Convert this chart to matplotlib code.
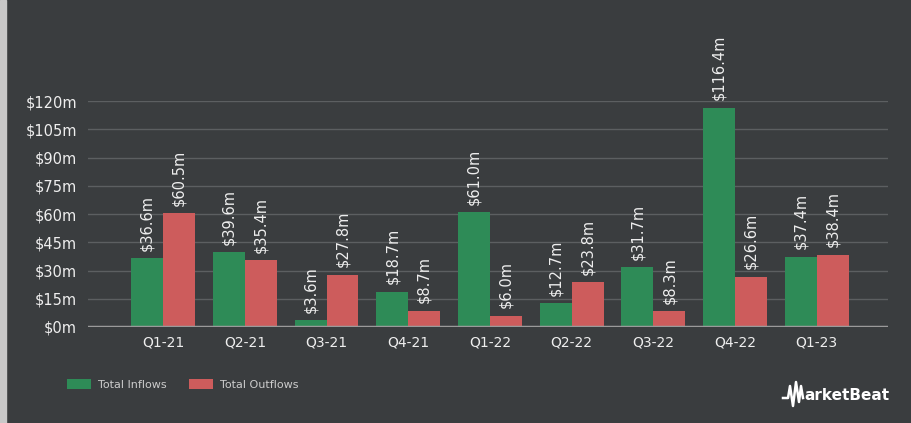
import matplotlib.pyplot as plt
import numpy as np
from matplotlib.patches import Rectangle

quarters = ["Q1-21", "Q2-21", "Q3-21", "Q4-21", "Q1-22", "Q2-22", "Q3-22", "Q4-22", "Q1-23"]
inflows = [36.6, 39.6, 3.6, 18.7, 61.0, 12.7, 31.7, 116.4, 37.4]
outflows = [60.5, 35.4, 27.8, 8.7, 6.0, 23.8, 8.3, 26.6, 38.4]
yticks = [0, 15, 30, 45, 60, 75, 90, 105, 120]

BG = "#3a3d3f"
GREEN = "#2e8b57"
RED = "#cd5c5c"
TEXT = "#eeeeee"

fig = plt.figure(figsize=(9.12, 4.23), dpi=100, facecolor=BG)
ax = fig.add_axes([0.0965, 0.227, 0.877, 0.534])
ax.set_facecolor(BG)

x = np.arange(len(quarters))
w = 0.39
b1 = ax.bar(x - w / 2, inflows, w, color=GREEN, label="Total Inflows", zorder=3)
b2 = ax.bar(x + w / 2, outflows, w, color=RED, label="Total Outflows", zorder=3)

for bars, vals in ((b1, inflows), (b2, outflows)):
    for bar, v in zip(bars, vals):
        ax.text(bar.get_x() + bar.get_width() / 2, v + 4, f"${v:.1f}m",
                rotation=90, ha="center", va="bottom", color=TEXT,
                fontsize=10.5, clip_on=False, zorder=4)

ax.set_xlim(-0.92, 8.87)
ax.set_ylim(0, 120)
ax.set_yticks(yticks)
ax.set_yticklabels([f"${t}m" for t in yticks], color=TEXT, fontsize=10.5)
ax.set_xticks(x)
ax.set_xticklabels(quarters, color=TEXT, fontsize=10)
ax.tick_params(length=0, pad=8)
ax.tick_params(axis="x", pad=6)
ax.grid(axis="y", color="#5c5f61", linewidth=1, zorder=0)
for s in ax.spines.values():
    s.set_visible(False)
ax.axhline(0, color="#9a9a9a", linewidth=2.5, zorder=5)

# legend
leg = fig.legend(handles=[b1, b2], loc="lower left", bbox_to_anchor=(0.062, 0.055),
                 ncol=2, frameon=False, fontsize=8, handlelength=2.2,
                 handleheight=0.9, columnspacing=2.0, handletextpad=0.6)
for t in leg.get_texts():
    t.set_color("#cccccc")

# left edge strip
fig.patches.append(Rectangle((0, 0), 6 / 912, 1, transform=fig.transFigure,
                             color="#c8c8c8", zorder=0))

# logo
xs = np.array([783, 788, 790, 793, 796, 799, 801, 803]) / 912
ys = (423 - np.array([398, 398, 386, 406, 382, 402, 386, 398])) / 423
fig.add_artist(plt.Line2D(xs, ys, color="white", linewidth=1.8))
fig.text(804 / 912, (423 - 395) / 423, "arketBeat", color="white", fontsize=11,
         fontweight="bold", ha="left", va="center")

fig.savefig("out.png", dpi=100, facecolor=BG)
